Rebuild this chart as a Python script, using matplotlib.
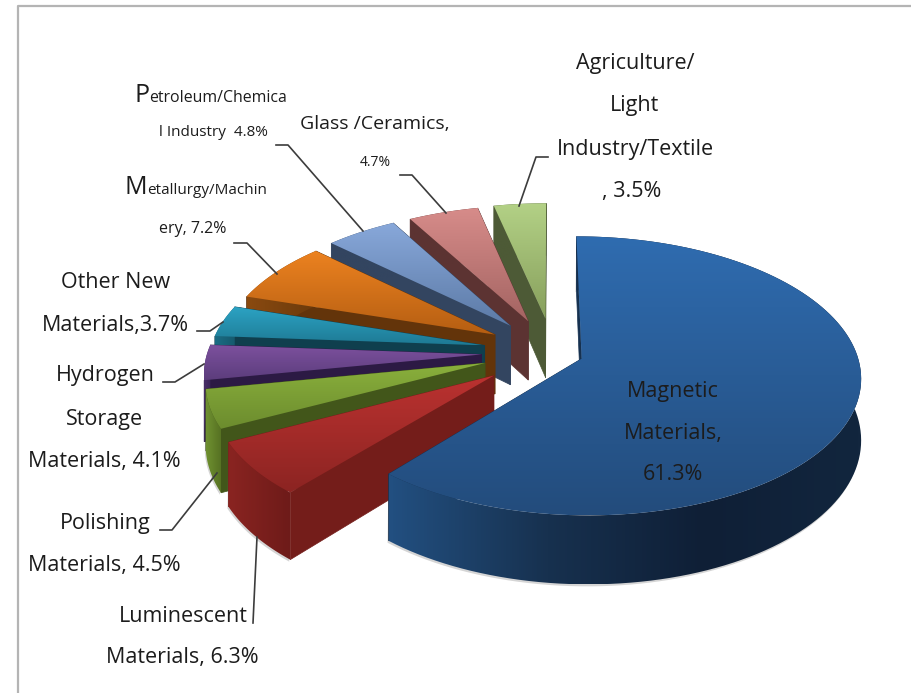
import numpy as np
import matplotlib
matplotlib.use("Agg")
import matplotlib.pyplot as plt
from matplotlib.colors import LinearSegmentedColormap
from matplotlib.patches import Polygon

# clockwise from 12 o'clock
sectors = ["Magnetic", "Luminescent", "Polishing", "Hydrogen Storage", "Other New",
           "Metallurgy/Machinery", "Petroleum/Chemical", "Glass/Ceramics", "Agriculture/Light/Textile"]
shares = [61.3, 6.3, 4.5, 4.1, 3.7, 7.2, 4.8, 4.7, 3.5]

top_light = ["#2f6cb0", "#bb3230", "#8ab03c", "#7d519f", "#2ca3c4", "#ec8220", "#88a8da", "#d78c8a", "#b3d186"]
top_dark = ["#234c7c", "#8c2422", "#6c8c2e", "#5c3d7c", "#1e7a94", "#b55e12", "#5c7aa6", "#a46462", "#879f5c"]
cut_col = ["#163150", "#741d1a", "#42561a", "#2c1a44", "#0f3f4e", "#63340a", "#334560", "#5c3332", "#4d5a36"]
rim_cols = [["#224f80", "#17314f", "#0f1f36", "#12263e"], ["#8a2421", "#6e1b19"],
            ["#6f9030", "#557022"], ["#4a2f6a", "#3a2456"], ["#1b6c84", "#165a6e"],
            ["#8a4a10", "#6b3a0c"], ["#334560", "#334560"], ["#5c3332", "#5c3332"], ["#4d5a36", "#4d5a36"]]
# small per slice shifts of the exploded slices, px
nudge_x = [-1, -1, -2, -3, -1, 3, 6, 11, 16]
nudge_y = [3, 13, 8, 6, 3, 0, -2, -3, -4]

CX, CY = 535, 347
RX, RY = 280, 138
PERSP = 0.125
EXPLODE = 0.18
RADIUS = 0.98
DEPTH = 60


def project(x, y, dx=0, dy=0, z=0):
    f = 1 / (1 + PERSP * y)
    return CX + RX * x * f + dx, CY - RY * y * f + dy + z * DEPTH * f


def grad_fill(ax, pts, colors, vertical=True, zorder=2):
    pts = np.asarray(pts)
    x0, y0 = pts.min(axis=0)
    x1, y1 = pts.max(axis=0)
    cmap = LinearSegmentedColormap.from_list("g", colors)
    ramp = np.linspace(0, 1, 128)
    img = ramp[:, None] if vertical else ramp[None, :]
    im = ax.imshow(img, cmap=cmap, extent=(x0, x1, y1, y0), aspect="auto",
                   interpolation="bilinear", zorder=zorder)
    patch = Polygon(pts, closed=True, transform=ax.transData, fc="none", ec="none")
    ax.add_patch(patch)
    im.set_clip_path(patch)


fig = plt.figure(figsize=(9.12, 6.93), dpi=100)
ax = fig.add_axes([0, 0, 1, 1])
ax.axis("off")

fractions = np.array(shares) / sum(shares)
edges = np.cumsum(np.r_[0, fractions])
start_ang = np.pi / 2 - edges[:-1] * 2 * np.pi
end_ang = np.pi / 2 - edges[1:] * 2 * np.pi

# back slices first, the big one last
z = 2
for i in list(range(8, -1, -1)):
    mid = (start_ang[i] + end_ang[i]) / 2
    ox, oy = EXPLODE * np.cos(mid), EXPLODE * np.sin(mid)
    t = np.linspace(start_ang[i], end_ang[i], 120)
    ax_x, ax_y = ox + RADIUS * np.cos(t), oy + RADIUS * np.sin(t)
    nx, ny = nudge_x[i], nudge_y[i]

    top = [project(a, b, nx, ny) for a, b in zip(ax_x, ax_y)]
    low = [project(a, b, nx, ny, 1) for a, b in zip(ax_x, ax_y)]
    tip_t = project(ox, oy, nx, ny)
    tip_b = project(ox, oy, nx, ny, 1)

    # soft shadow under the outer wall
    if i < 3:
        shadow = [(p[0] - 1, p[1] + 2) for p in low] + top[::-1]
        ax.add_patch(Polygon(shadow, closed=True, fc="#888888", ec="none", alpha=0.35, zorder=z))
        z += 1

    # cut faces, then outer wall, then top
    ax.add_patch(Polygon([tip_t, top[0], low[0], tip_b], closed=True, fc=cut_col[i], ec=cut_col[i], lw=0.5, zorder=z))
    ax.add_patch(Polygon([tip_t, top[-1], low[-1], tip_b], closed=True, fc=cut_col[i], ec=cut_col[i], lw=0.5, zorder=z))
    z += 1
    grad_fill(ax, top + low[::-1], rim_cols[i], vertical=False, zorder=z)
    z += 1
    grad_fill(ax, [tip_t] + top, [top_light[i], top_dark[i]], zorder=z)
    z += 1

# frame of the picture, only top and left are there
ax.plot([18, 18, 912], [693, 6, 6], color="#b4b4b4", lw=1.6, zorder=z)

leaders = [
    ([548, 536, 519], [157, 157, 206]),
    ([400, 412, 446], [175, 175, 213]),
    ([276, 288, 363], [145, 145, 231]),
    ([234, 247, 277], [243, 243, 274]),
    ([197, 210, 223], [331, 331, 322]),
    ([163, 175, 204], [382, 382, 364]),
    ([160, 172, 217], [530, 530, 473]),
    ([253, 257], [623, 537]),
]
for lx, ly in leaders:
    ax.plot(lx, ly, color="#3c3c3c", lw=1.2, zorder=z)

FONT = ["Open Sans", "DejaVu Sans"]
labels = [
    ("Agriculture/", 635, 64), ("Light", 635, 106), ("Industry/Textile", 635, 150), (", 3.5%", 632, 192),
    ("Other New", 116, 282), ("Materials,3.7%", 115, 325),
    ("Hydrogen", 105, 376), ("Storage", 105, 419), ("Materials, 4.1%", 104, 461),
    ("Polishing", 105, 524), ("Materials, 4.5%", 104, 566),
    ("Luminescent", 183, 616), ("Materials, 6.3%", 182, 657),
    ("Magnetic", 673, 392), ("Materials,", 673, 433), ("61.3%", 673, 475),
]
for s, x, y in labels:
    ax.text(x, y, s, ha="center", va="center", fontsize=15.5, family=FONT, color="#1c1c1c", zorder=z + 1)

small_labels = [
    ("Glass /Ceramics,", 375, 124, 14), ("4.7%", 375, 163, 10),
    ("etroleum/Chemica", 218, 98, 11.4), ("l Industry  4.8%", 213, 133, 11),
    ("etallurgy/Machin", 207, 191, 11), ("ery, 7.2%", 193, 229, 11.5),
]
for s, x, y, fs in small_labels:
    ax.text(x, y, s, ha="center", va="center", fontsize=fs, family=FONT, color="#1c1c1c", zorder=z + 1)
ax.text(142, 95, "P", ha="center", va="center", fontsize=18, family=FONT, color="#1c1c1c", zorder=z + 1)
ax.text(136, 187, "M", ha="center", va="center", fontsize=18, family=FONT, color="#1c1c1c", zorder=z + 1)

ax.set_xlim(0, 912)
ax.set_ylim(693, 0)
fig.savefig("out.png", dpi=100)
